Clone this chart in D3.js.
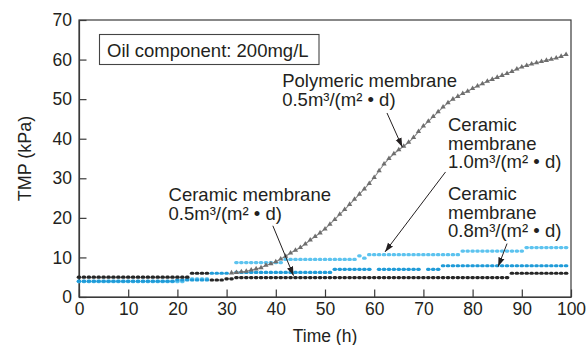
<!DOCTYPE html>
<html><head><meta charset="utf-8">
<script src="https://cdn.jsdelivr.net/npm/d3@7"></script>
<style>
body{margin:0;background:#fff;}
svg{display:block;font-family:"Liberation Sans",Arial,Helvetica,sans-serif;}
</style>
</head><body>
<svg id="chart" width="587" height="345"></svg>
<script>
// ---------------- data ----------------
const xTicks = [0,10,20,30,40,50,60,70,80,90,100];
const yTicks = [0,10,20,30,40,50,60,70];
const hours = d3.range(0, 100); // sampling hours 0..99

// Ceramic membrane 0.5 m3/(m2·d) (black)
const ceramic05 = [
 5.0,5.0,5.0,5.0,5.0,5.0,5.0,5.0,5.0,5.0,
 5.0,5.0,5.0,5.0,5.0,5.0,5.0,5.0,5.0,5.0,
 5.0,5.0,5.0,6.0,6.0,6.0,6.0,4.3,4.3,4.3,
 4.6,4.6,4.9,4.9,4.9,4.9,4.9,4.9,4.9,4.9,
 4.9,4.9,4.9,4.9,4.9,4.9,4.9,4.9,4.9,4.9,
 4.9,4.9,4.9,4.9,4.9,4.9,4.9,4.9,4.9,4.9,
 4.9,4.9,4.9,4.9,4.9,4.9,4.9,4.9,4.9,4.9,
 4.9,4.9,4.9,4.9,4.9,4.9,4.9,4.9,4.9,4.9,
 4.9,4.9,4.9,4.9,4.9,4.9,4.9,4.9,6.0,6.0,
 6.0,6.0,6.0,6.0,6.0,6.0,6.0,6.0,6.0,6.0
];
// Ceramic membrane 0.8 m3/(m2·d) (medium blue)
const ceramic08 = [
 4.0,4.0,4.0,4.0,4.0,4.0,4.0,4.0,4.0,4.0,
 4.0,4.0,4.0,4.0,4.0,4.0,4.0,4.0,4.0,4.0,
 4.3,4.3,4.3,4.3,4.3,4.3,4.3,6.0,6.0,6.0,
 6.0,null,6.2,6.2,6.2,6.2,6.2,6.2,6.2,6.2,
 6.2,6.2,6.2,6.2,6.2,6.2,6.2,6.2,6.2,6.2,
 6.2,6.2,7.0,7.0,7.0,7.0,7.0,7.0,7.0,7.0,
 null,7.0,7.0,7.0,7.0,7.0,7.0,7.0,7.0,7.0,
 null,7.0,7.0,7.0,7.9,7.9,7.9,7.9,7.9,7.9,
 7.9,7.9,7.9,7.9,7.9,7.9,7.9,7.9,7.9,7.9,
 7.9,7.9,7.9,7.9,7.9,7.9,7.9,7.9,7.9,7.9
];
// Ceramic membrane 1.0 m3/(m2·d) (light blue)
const ceramic10 = [
 3.9,3.9,3.9,3.9,3.9,3.9,3.9,3.9,3.9,3.9,
 3.9,3.9,3.9,3.9,3.9,3.9,3.9,3.9,3.9,3.9,
 3.9,3.9,4.6,4.6,4.6,4.6,4.6,null,null,null,
 null,null,8.7,8.7,8.7,8.7,8.7,8.7,8.7,8.7,
 8.7,8.7,9.5,9.5,9.5,9.5,9.5,9.5,9.5,9.5,
 9.5,9.5,9.5,9.5,9.5,9.5,9.5,10.4,9.8,10.7,
 10.7,10.7,10.7,10.7,10.7,10.7,10.7,10.7,10.7,10.7,
 10.7,10.7,10.7,10.7,10.7,10.7,10.7,10.7,11.6,11.6,
 11.6,11.6,11.6,11.6,11.6,11.6,11.6,11.6,11.6,11.6,
 11.6,12.5,12.5,12.5,12.5,12.5,12.5,12.5,12.5,12.5
];
// Polymeric membrane 0.5 m3/(m2·d) (gray triangles), hours 31..99
const polyHours = d3.range(31, 100);
const polymeric = [
 6.1,6.2,6.4,6.5,6.8,7.1,7.4,8.0,8.4,8.9,
 9.6,10.3,11.1,11.8,12.5,13.4,14.4,15.3,16.2,17.2,
 18.4,19.6,20.9,22.1,23.4,24.7,26.0,27.3,28.7,30.2,
 31.9,33.6,35.0,36.2,37.2,38.1,39.1,40.3,41.8,43.2,
 44.4,45.6,46.8,48.0,49.1,50.0,50.7,51.4,52.0,52.7,
 53.3,53.9,54.5,55.0,55.5,56.0,56.5,57.0,57.6,58.1,
 58.5,58.9,59.2,59.5,59.8,60.1,60.4,60.8,61.3
];

const xTitle = "Time (h)";
const yTitle = "TMP (kPa)";
const boxLabel = "Oil component: 200mg/L";

// annotation labels: lines, text anchor (hours, kPa), arrow from/to (hours, kPa)
const annotations = [
  {lines:["Polymeric membrane", "0.5m³/(m² • d)"], at:[41.3, 53.0], from:[62.6,46.5], to:[65.7,37.9]},
  {lines:["Ceramic", "membrane", "1.0m³/(m² • d)"], at:[75.0, 41.9], from:[74.5,31.6], to:[62.2,11.4]},
  {lines:["Ceramic", "membrane", "0.8m³/(m² • d)"], at:[75.0, 24.5], from:[87.0,13.5], to:[85.2,7.7]},
  {lines:["Ceramic membrane", "0.5m³/(m² • d)"], at:[18.2, 24.2], from:[39.4,18.0], to:[43.6,5.4]}
];

// ---------------- chart ----------------
const W = 587, H = 345;
const M = {left:79, top:20, right:16, bottom:48};
const svg = d3.select("#chart");
const x = d3.scaleLinear().domain([0,100]).range([M.left, W - M.right]);
const y = d3.scaleLinear().domain([0,70]).range([H - M.bottom, M.top]);
const ink = "#231f20";
const axisCol = "#3a3a3a";

// frame
svg.append("rect")
  .attr("x", x(0)).attr("y", y(70))
  .attr("width", x(100) - x(0)).attr("height", y(0) - y(70))
  .attr("fill", "none").attr("stroke", axisCol).attr("stroke-width", 1.2);

// axes
const fs = 17.5;
const gx = svg.append("g").attr("transform", `translate(0,${y(0)})`)
  .call(d3.axisBottom(x).tickValues(xTicks).tickSizeInner(-7.5).tickSizeOuter(0).tickPadding(6).tickFormat(d3.format("d")));
const gy = svg.append("g").attr("transform", `translate(${x(0)},0)`)
  .call(d3.axisLeft(y).tickValues(yTicks).tickSizeInner(-7.5).tickSizeOuter(0).tickPadding(7).tickFormat(d3.format("d")));
[gx, gy].forEach(g => {
  g.select(".domain").attr("stroke", axisCol).attr("stroke-width", 1.2);
  g.selectAll(".tick line").attr("stroke", axisCol).attr("stroke-width", 1.2);
  g.selectAll(".tick text").attr("fill", ink).style("font-size", fs + "px")
    .style("font-family", '"Liberation Sans",Arial,sans-serif');
});

// axis titles
svg.append("text").attr("x", (x(0)+x(100))/2).attr("y", 342)
  .attr("text-anchor", "middle").attr("fill", ink).style("font-size", "17.5px").text(xTitle);
svg.append("text").attr("transform", `translate(31,${(y(0)+y(70))/2}) rotate(-90)`)
  .attr("text-anchor", "middle").attr("fill", ink).style("font-size", "18px").text(yTitle);

// data marks
const plot = svg.append("g");
function dotted(values, color) {
  const pts = hours.map((h, i) => ({t: h, v: values[i]})).filter(d => d.v != null);
  plot.append("g").selectAll("rect").data(pts).join("rect")
    .attr("x", d => x(d.t) - 2.3).attr("y", d => y(d.v) - 1.6)
    .attr("width", 4.6).attr("height", 3.2).attr("rx", 1.6)
    .attr("fill", color);
}
dotted(ceramic10, "#5cc3ef");
dotted(ceramic08, "#1f9bd8");
dotted(ceramic05, "#262626");

const polyPts = polyHours.map((h, i) => ({t: h, v: polymeric[i]}));
plot.append("path").datum(polyPts)
  .attr("d", d3.line().x(d => x(d.t)).y(d => y(d.v)))
  .attr("fill", "none").attr("stroke", "#858585").attr("stroke-width", 1.1);
plot.append("g").selectAll("path").data(polyPts).join("path")
  .attr("transform", d => `translate(${x(d.t)},${y(d.v)})`)
  .attr("d", d3.symbol(d3.symbolTriangle, 12))
  .attr("fill", "#6e6e6e");

// condition box
const bx = svg.append("g");
bx.append("rect").attr("x", 99.5).attr("y", 34.5).attr("width", 219.5).attr("height", 30)
  .attr("fill", "#fff").attr("stroke", "#444").attr("stroke-width", 1.1);
bx.append("text").attr("x", 107).attr("y", 57).attr("fill", ink)
  .style("font-size", "18.5px").text(boxLabel);

// arrows
const defs = svg.append("defs");
defs.append("marker").attr("id", "ah").attr("viewBox", "0 0 10 10")
  .attr("refX", 10).attr("refY", 5).attr("markerWidth", 9).attr("markerHeight", 9)
  .attr("markerUnits", "userSpaceOnUse").attr("orient", "auto")
  .append("path").attr("d", "M0,1.5 L10,5 L0,8.5 Z").attr("fill", ink);

const ann = svg.append("g");
annotations.forEach(a => {
  ann.append("line")
    .attr("x1", x(a.from[0])).attr("y1", y(a.from[1]))
    .attr("x2", x(a.to[0])).attr("y2", y(a.to[1]))
    .attr("stroke", ink).attr("stroke-width", 1).attr("marker-end", "url(#ah)");
  const tx = x(a.at[0]), ty = y(a.at[1]);
  a.lines.forEach((ln, i) => {
    ann.append("text").attr("x", tx).attr("y", ty + i * 18.5)
      .attr("fill", ink).style("font-size", "18.5px").text(ln);
  });
});
</script>
</body></html>
